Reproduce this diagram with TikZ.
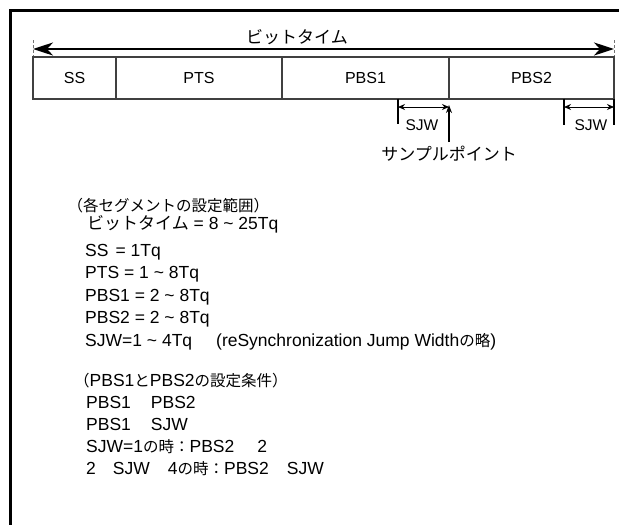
\documentclass[tikz,border=0pt]{standalone}
\usepackage{fontspec}
\setmainfont{Liberation Sans}
\newfontfamily\jp{Noto Sans CJK JP}
\usetikzlibrary{arrows.meta}
\begin{document}
\begin{tikzpicture}[x=1pt,y=-1pt,
  seg/.style={draw=black!75, line width=1.2pt, minimum height=42pt, inner sep=0pt, font=\fontsize{16}{18}\selectfont},
  txt/.style={anchor=base west, inner sep=0pt, font=\fontsize{17.5}{20}\selectfont},
  jtxt/.style={anchor=base west, inner sep=0pt, font=\fontsize{15.5}{18}\jp},
  lab/.style={inner sep=0pt, font=\fontsize{15.5}{18}\selectfont},
  jlab/.style={inner sep=0pt, font=\fontsize{17}{20}\jp},
  bigarrow/.style={line width=2.5pt, {Stealth[length=20pt,width=13pt,inset=6pt]}-{Stealth[length=20pt,width=13pt,inset=6pt]}},
  endtick/.style={black!55, line width=0.8pt, densely dashed},
  sjwtick/.style={line width=2pt},
  sjwarrow/.style={line width=1pt, {Stealth[length=7pt,width=6pt]}-{Stealth[length=7pt,width=6pt]}},
  sparrow/.style={line width=2pt, -{Stealth[length=8pt,width=6pt]}}
]
\newcommand{\jsmall}{\fontsize{15.5}{18}\jp}
\useasboundingbox (0,0) rectangle (619,525);
\clip (0,0) rectangle (619,525);
% frame (only top and left visible)
\draw[line width=2.5pt] (10.5,560) -- (10.5,10.5) -- (660,10.5);

% bit time arrow
\coordinate (bl) at (33,49);
\coordinate (br) at (614,49);
\coordinate (blt) at (33,40);
\coordinate (blb) at (33,56);
\coordinate (brt) at (614,40);
\coordinate (brb) at (614,56);
\draw[endtick] (blt) -- (blb);
\draw[endtick] (brt) -- (brb);
\draw[bigarrow] (bl) -- (br);
\node[jlab] (bt) at (297,37) {ビットタイム};

% segments
\node[seg, minimum width=83pt] (ss) at (74.5,78) {SS};
\node[seg, minimum width=166pt] (pts) at (199,78) {PTS};
\node[seg, minimum width=167pt] (pbs1) at (365.5,78) {PBS1};
\node[seg, minimum width=165pt] (pbs2) at (531.5,78) {PBS2};

% SJW markers
\coordinate (s1t) at (398,98.5);
\coordinate (s1b) at (398,124);
\coordinate (s1l) at (398,107);
\coordinate (s1r) at (449,107);
\draw[sjwtick] (s1t) -- (s1b);
\draw[sjwarrow] (s1l) -- (s1r);
\node[lab] (sjw1) at (422,125) {SJW};

\coordinate (s2t) at (564,98.5);
\coordinate (s2b) at (564,125);
\coordinate (s2l) at (564,107);
\coordinate (s2r) at (614,107);
\coordinate (s3t) at (614,98.5);
\coordinate (s3b) at (614,125);
\draw[sjwtick] (s2t) -- (s2b);
\draw[sjwtick] (s3t) -- (s3b);
\draw[sjwarrow] (s2l) -- (s2r);
\node[lab] (sjw2) at (591,125) {SJW};

% sample point
\node[jlab] (sp) at (449,154) {サンプルポイント};
\coordinate (spt) at (449,105);
\coordinate (spb) at (449,142);
\draw[sparrow] (spb) -- (spt);

% setting ranges
\node[jtxt] (r0) at (67.5,211) {（各セグメントの設定範囲）};
\node[txt] (r1) at (87,229.3) {{\fontsize{17}{20}\jp ビットタイム} = 8 \textasciitilde\ 25Tq};
\node[txt] (r2) at (85,256.3) {SS\hspace{7pt}= 1Tq};
\node[txt] (r3) at (85,278.8) {PTS = 1 \textasciitilde\ 8Tq};
\node[txt] (r4) at (85,301.3) {PBS1 = 2 \textasciitilde\ 8Tq};
\node[txt] (r5) at (85,323.8) {PBS2 = 2 \textasciitilde\ 8Tq};
\node[txt] (r6) at (85,346.3) {SJW=1 \textasciitilde\ 4Tq\hspace{24pt}(reSynchronization Jump Width{\jsmall の略})};

% conditions
\node[txt] (c0) at (74,386.2) {{\jsmall （}PBS1{\jsmall と}PBS2{\jsmall の設定条件）}};
\node[txt] (c1) at (86,408.8) {PBS1\hspace{20pt}PBS2};
\node[txt] (c2) at (86,430.8) {PBS1\hspace{20pt}SJW};
\node[txt] (c3) at (86,452.8) {SJW=1{\jsmall の時：}PBS2\hspace{23pt}2};
\node[txt] (c4) at (86,474.3) {2\hspace{17pt}SJW\hspace{18pt}4{\jsmall の時：}PBS2\hspace{18pt}SJW};
\end{tikzpicture}
\end{document}
